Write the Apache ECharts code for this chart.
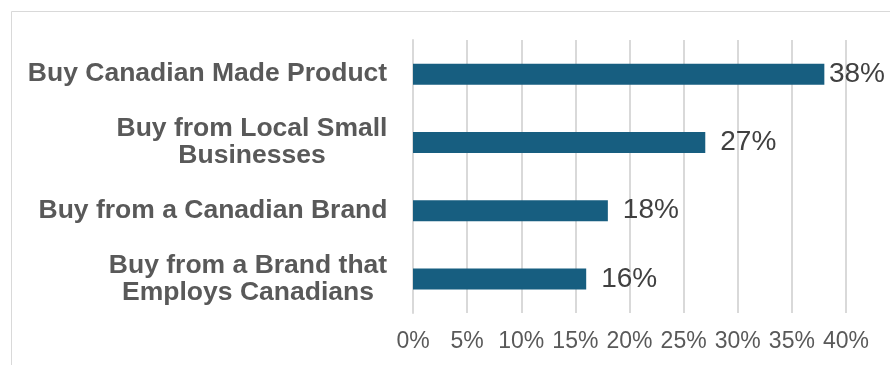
<!DOCTYPE html>
<html>
<head>
<meta charset="utf-8">
<script src="https://cdn.jsdelivr.net/npm/echarts@6/dist/echarts.min.js"></script>
<style>
html,body{margin:0;padding:0;background:#fff;}
#chart{width:890px;height:365px;}
</style>
</head>
<body>
<div id="chart"></div>
<script>
const categories = [
  "Buy Canadian Made Product",
  "Buy from Local Small\nBusinesses",
  "Buy from a Canadian Brand",
  "Buy from a Brand that\nEmploys Canadians"
];
const values = [38, 27, 18, 16];
const axisMin = 0, axisMax = 40, axisStep = 5;

const FONT = 'Liberation Sans, Arial, sans-serif';
const CAT_SIZE = 26.5;
const ctx = document.createElement('canvas').getContext('2d');
ctx.font = 'bold ' + CAT_SIZE + 'px ' + FONT;

// rich styles so multi-line labels are centred within a right-aligned block
const rich = {};
categories.forEach(function (c, i) {
  const w = Math.max.apply(null, c.split('\n').map(function (s) { return ctx.measureText(s).width; }));
  rich['c' + i] = {
    width: Math.ceil(w) + 1,
    align: 'center',
    fontSize: CAT_SIZE,
    fontWeight: 'bold',
    fontFamily: FONT,
    color: '#595959',
    lineHeight: 27
  };
});

const RIGHT_LIMIT = 885;
const chart = echarts.init(document.getElementById('chart'), null, {renderer: 'canvas'});
chart.setOption({
  animation: false,
  backgroundColor: '#ffffff',
  graphic: [{
    type: 'rect',
    shape: {x: 11.5, y: 11.5, width: 900, height: 400},
    style: {fill: 'none', stroke: '#d9d9d9', lineWidth: 1},
    silent: true
  }],
  grid: {left: 413, right: 44, top: 40, bottom: 52, containLabel: false},
  xAxis: {
    type: 'value',
    min: axisMin, max: axisMax, interval: axisStep,
    axisLine: {show: false},
    axisTick: {show: false},
    splitLine: {show: true, lineStyle: {color: '#d9d9d9', width: 2}},
    axisLabel: {
      formatter: '{value}%',
      color: '#595959',
      fontFamily: FONT,
      fontSize: 23,
      margin: 17
    }
  },
  yAxis: {
    type: 'category',
    data: categories,
    inverse: true,
    axisLine: {show: true, lineStyle: {color: '#d9d9d9', width: 2}},
    axisTick: {show: false},
    axisLabel: {
      color: '#595959',
      fontFamily: FONT,
      fontWeight: 'bold',
      fontSize: CAT_SIZE,
      lineHeight: 27,
      margin: 25,
      formatter: function (v) {
        const i = categories.indexOf(v);
        return v.split('\n').map(function (s) { return '{c' + i + '|' + s + '}'; }).join('\n');
      },
      rich: rich
    }
  },
  series: [{
    type: 'bar',
    data: values,
    barWidth: 21,
    itemStyle: {color: '#175e80'},
    label: {
      show: true,
      position: 'right',
      distance: 15,
      formatter: '{c}%',
      color: '#404040',
      fontFamily: FONT,
      fontSize: 28
    },
    labelLayout: function (params) {
      const r = params.labelRect;
      const over = r.x + r.width - RIGHT_LIMIT;
      return over > 0 ? {dx: -over} : {};
    }
  }]
});
</script>
</body>
</html>
